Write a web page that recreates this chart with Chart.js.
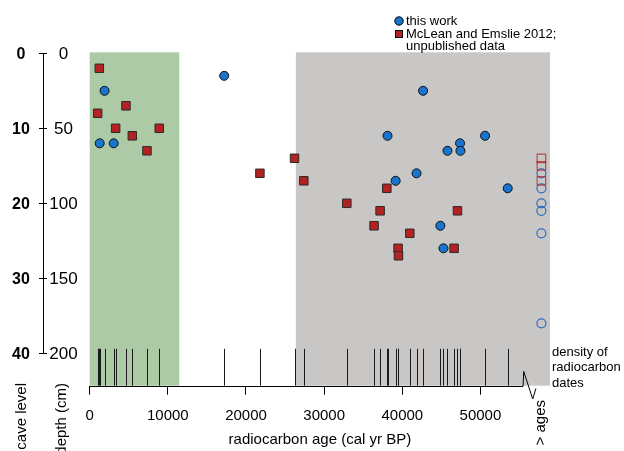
<!DOCTYPE html>
<html>
<head>
<meta charset="utf-8">
<script src="https://cdn.jsdelivr.net/npm/chart.js@4.4.1/dist/chart.umd.min.js"></script>
<style>
html,body{margin:0;padding:0;background:#fff;}
#wrap{width:624px;height:451px;position:relative;overflow:hidden;}
canvas{display:block;}
</style>
</head>
<body>
<div id="wrap"><canvas id="c" width="624" height="451"></canvas></div>
<script>
// ---- data ----
const thisWorkAge   = [1900, 1280, 3070, 17210, 42660, 38110, 50590, 47390, 45780, 47440, 41820, 39150, 53490, 44870, 45270];
const thisWorkDepth = [25,   60,   60,   15,    25,    55,    55,    60,    65,    65,    80,    85,    90,    115,   130];

const mcleanAge   = [1230, 4640, 1020, 3320, 8900, 5450, 7330, 21780, 26210, 27400, 38020, 32900, 37160, 47060, 36390, 40960, 39460, 39510, 46630];
const mcleanDepth = [10,   35,   40,   50,   50,   55,   65,   80,    70,    85,    90,    100,   105,   105,   115,   120,   130,   135,   130];

// samples beyond the radiocarbon limit ("> ages")
const beyondThisWorkDepth = [80, 90, 100, 105, 120, 180];
const beyondMcleanDepth   = [70, 75, 85];

// tick labels
const xTickValues    = [0, 10000, 20000, 30000, 40000, 50000];
const depthTicks     = [0, 50, 100, 150, 200];
const caveLevelTicks = [0, 10, 20, 30, 40];

// shaded periods (cal yr BP)
const greenPeriod = [0, 11460];
const grayPeriod  = [26380, 58900];

const BEYOND_AGE = 57800;     // column where "> ages" samples are plotted
const X_MAX = 58900;
const Y_MAX = 221.6;
const RUG_TOP = 197;

const FONT = '"Liberation Sans", Arial, Helvetica, sans-serif';
const BLUE = '#1874CD';
const RED = '#B22222';

const toPts = (xs, ys) => xs.map((v, i) => ({x: v, y: ys[i]}));

const decorPlugin = {
  id: 'decor',
  beforeDatasetsDraw(chart) {
    const {ctx, chartArea: a, scales: {x, y}} = chart;
    ctx.save();
    ctx.fillStyle = '#adcaa6';
    let x0 = x.getPixelForValue(greenPeriod[0]), x1 = x.getPixelForValue(greenPeriod[1]);
    ctx.fillRect(x0, a.top - 1, x1 - x0, a.bottom - a.top + 1);
    ctx.fillStyle = '#c8c7c6';
    x0 = x.getPixelForValue(grayPeriod[0]); x1 = x.getPixelForValue(grayPeriod[1]);
    ctx.fillRect(x0, a.top - 1, x1 - x0, a.bottom - a.top + 1);
    // rug of radiocarbon dates
    ctx.strokeStyle = '#1a1a1a';
    ctx.lineWidth = 1;
    const ry = y.getPixelForValue(RUG_TOP);
    thisWorkAge.concat(mcleanAge).forEach(v => {
      const px = Math.round(x.getPixelForValue(v)) + 0.5;
      ctx.beginPath(); ctx.moveTo(px, ry); ctx.lineTo(px, a.bottom); ctx.stroke();
    });
    ctx.restore();
  },
  afterDraw(chart) {
    const {ctx, chartArea: a, scales: {x, y}} = chart;
    ctx.save();
    ctx.strokeStyle = '#000';
    ctx.fillStyle = '#000';
    ctx.lineWidth = 1;
    // bottom axis line with break
    const by = Math.round(a.bottom) + 0.5;
    ctx.beginPath();
    ctx.moveTo(x.getPixelForValue(0), by);
    ctx.lineTo(x.getPixelForValue(55450), by);
    ctx.lineTo(x.getPixelForValue(55540), by - 15);
    ctx.lineTo(x.getPixelForValue(56690), by + 12.5);
    ctx.lineTo(x.getPixelForValue(57100), by + 2);
    ctx.stroke();

    // left double axis
    const lx = 43.5;
    ctx.beginPath();
    ctx.moveTo(lx, y.getPixelForValue(depthTicks[0]));
    ctx.lineTo(lx, y.getPixelForValue(depthTicks[depthTicks.length - 1]));
    ctx.stroke();
    ctx.textAlign = 'center';
    ctx.textBaseline = 'middle';
    depthTicks.forEach((d, i) => {
      const py = Math.round(y.getPixelForValue(d)) + 0.5;
      ctx.beginPath(); ctx.moveTo(39, py); ctx.lineTo(47, py); ctx.stroke();
      ctx.font = '17px ' + FONT;
      ctx.fillText(String(d), 63.5, py + 1);
      ctx.font = 'bold 16px ' + FONT;
      ctx.fillText(String(caveLevelTicks[i]), 21, py + 1);
    });

    // rotated titles
    const rot = (txt, px, top, font) => {
      ctx.save();
      ctx.translate(px, top);
      ctx.rotate(-Math.PI / 2);
      ctx.font = font;
      ctx.textAlign = 'right';
      ctx.textBaseline = 'middle';
      ctx.fillText(txt, 0, 0);
      ctx.restore();
    };
    rot('cave level', 22, 383, '15px ' + FONT);
    rot('depth (cm)', 62, 383, '15px ' + FONT);
    rot('> ages', 541, 400, '15px ' + FONT);

    // density annotation
    ctx.font = '13px ' + FONT;
    ctx.textAlign = 'left';
    ctx.textBaseline = 'middle';
    ['density of', 'radiocarbon', 'dates'].forEach((t, i) => ctx.fillText(t, 552, 352 + i * 15.5));

    // legend
    ctx.beginPath();
    ctx.arc(399, 21, 4.2, 0, Math.PI * 2);
    ctx.fillStyle = BLUE; ctx.fill();
    ctx.strokeStyle = '#000'; ctx.stroke();
    ctx.fillStyle = RED;
    ctx.fillRect(395, 30, 8, 8);
    ctx.strokeRect(395.5, 30.5, 7, 7);
    ctx.fillStyle = '#000';
    ctx.font = '13px ' + FONT;
    ctx.fillText('this work', 406, 21);
    ctx.fillText('McLean and Emslie 2012;', 406, 34);
    ctx.fillText('unpublished data', 406, 46);
    ctx.restore();
  }
};

new Chart(document.getElementById('c'), {
  type: 'scatter',
  data: {
    datasets: [
      {
        label: 'McLean and Emslie 2012; unpublished data',
        data: toPts(mcleanAge, mcleanDepth),
        pointStyle: 'rect', pointRadius: 6, pointHoverRadius: 6,
        backgroundColor: RED, borderColor: '#2a2a2a', borderWidth: 1
      },
      {
        label: 'this work',
        data: toPts(thisWorkAge, thisWorkDepth),
        pointStyle: 'circle', pointRadius: 4.5, pointHoverRadius: 4.5,
        backgroundColor: BLUE, borderColor: '#111', borderWidth: 1
      },
      {
        label: '> ages (McLean)',
        data: beyondMcleanDepth.map(d => ({x: BEYOND_AGE, y: d})),
        pointStyle: 'rect', pointRadius: 6, pointHoverRadius: 6,
        backgroundColor: 'rgba(0,0,0,0)', borderColor: 'rgba(178,34,34,0.75)', borderWidth: 1.2
      },
      {
        label: '> ages (this work)',
        data: beyondThisWorkDepth.map(d => ({x: BEYOND_AGE, y: d})),
        pointStyle: 'circle', pointRadius: 4.5, pointHoverRadius: 4.5,
        backgroundColor: 'rgba(0,0,0,0)', borderColor: 'rgba(24,100,190,0.9)', borderWidth: 1.2
      }
    ]
  },
  options: {
    responsive: false,
    animation: false,
    devicePixelRatio: 1,
    layout: {padding: {left: 89.7, right: 74, top: 53.3, bottom: 0}},
    plugins: {legend: {display: false}, tooltip: {enabled: false}},
    scales: {
      x: {
        type: 'linear', min: 0, max: X_MAX,
        afterBuildTicks: s => { s.ticks = xTickValues.map(v => ({value: v})); },
        afterFit: s => { s.height = 451 - 385.7; },
        grid: {drawOnChartArea: false, drawTicks: true, tickLength: 9, color: '#000', lineWidth: 1},
        border: {display: false},
        ticks: {color: '#000', font: {family: FONT, size: 15}, padding: 12, maxRotation: 0, autoSkip: false,
                callback: v => String(v)},
        title: {display: true, text: 'radiocarbon age (cal yr BP)', color: '#000',
                font: {family: FONT, size: 15}, padding: {top: 0, bottom: 2}}
      },
      y: {
        type: 'linear', reverse: true, min: 0, max: Y_MAX, display: false
      }
    }
  },
  plugins: [decorPlugin]
});
</script>
</body>
</html>
